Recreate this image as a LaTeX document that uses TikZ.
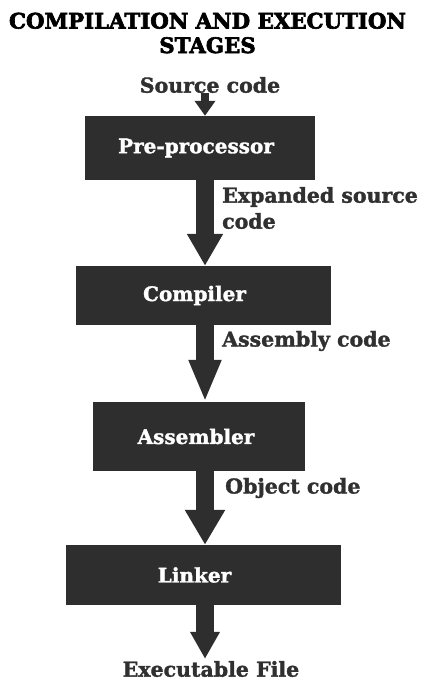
\documentclass[tikz,border=0pt]{standalone}
\usepackage{fontspec}
\setmainfont{DejaVu Serif}
\newfontfamily\heavy[FakeBold=1.6]{DejaVu Serif Bold}
\newfontfamily\titlefont[FakeBold=3]{DejaVu Serif Bold}
\usetikzlibrary{arrows.meta}
\definecolor{boxc}{HTML}{2E2E2E}
\definecolor{txtc}{HTML}{303030}
\begin{document}
\begin{tikzpicture}[x=1pt,y=-1pt,
  stage/.style={fill=boxc, draw=none, inner sep=0pt},
  stagetext/.style={font=\heavy\fontsize{20}{24}\selectfont, text=white, inner sep=0pt},
  lbl/.style={font=\heavy\fontsize{20.5}{26}\selectfont, text=txtc, inner sep=0pt},
  flow/.style 2 args={draw=boxc, line width=18pt, -{Triangle[width=#1pt,length=#2pt]}},
  smallflow/.style={draw=boxc, line width=8pt, -{Triangle[width=20pt,length=15pt]}}]
\useasboundingbox (0,0) rectangle (422,683);
\coordinate (ax) at (205,0);
\node[font=\titlefont\fontsize{21.3}{24.5}\selectfont, text=black, align=center, inner sep=0pt] (title) at (207.5,33) {COMPILATION AND EXECUTION\\STAGES};
\node[lbl] (src) at (210,85) {Source code};
\node[stage, minimum width=230pt, minimum height=64pt, label={[stagetext, xshift=-4pt]center:Pre-processor}] (b1) at (200,148) {};
\node[stage, minimum width=255pt, minimum height=59pt, label={[stagetext, xshift=-9pt]center:Compiler}] (b2) at (203.5,295.5) {};
\node[stage, minimum width=212pt, minimum height=69pt, label={[stagetext, xshift=-3pt]center:Assembler}] (b3) at (199,436.5) {};
\node[stage, minimum width=275pt, minimum height=60pt, label={[stagetext, xshift=-9pt]center:Linker}] (b4) at (203.5,575) {};
\node[lbl, anchor=west, align=left] (l1) at (222,208) {Expanded source\\code};
\node[lbl, anchor=west] (l2) at (222,341) {Assembly code};
\node[lbl, anchor=west] (l3) at (225,488) {Object code};
\node[lbl] (exe) at (211,669) {Executable File};
\draw[smallflow] (src.south -| ax) -- (b1.north -| ax);
\draw[flow={34}{32}] (b1.south -| ax) -- (b2.north -| ax);
\draw[flow={30}{42}] (b2.south -| ax) -- (b3.north -| ax);
\draw[flow={38}{35}] (b3.south -| ax) -- (b4.north -| ax);
\draw[flow={28}{27}, shorten >=2pt] (b4.south -| ax) -- (exe.north -| ax);
\end{tikzpicture}
\end{document}
